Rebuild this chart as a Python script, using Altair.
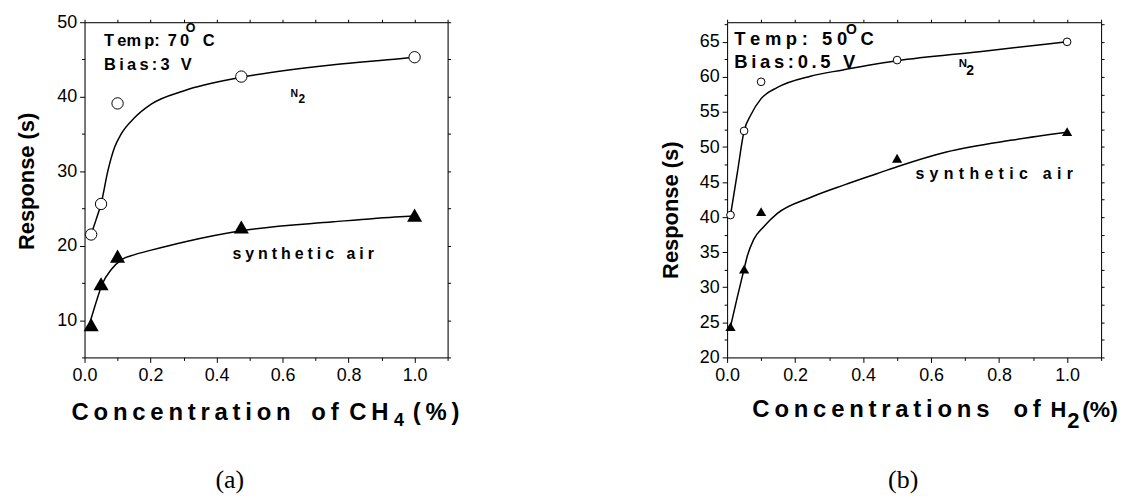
import altair as alt
import pandas as pd

# ---------------- Panel (a): CH4, 70 °C, 3 V ----------------
a_conc = [0.02, 0.05, 0.10, 0.475, 1.00]
a_n2 = [21.5, 25.6, 39.1, 42.7, 45.3]
a_air = [9.4, 14.9, 18.6, 22.5, 24.1]
a_fit_n2_x = [0.02, 0.035, 0.05, 0.071, 0.091, 0.111, 0.152, 0.202, 0.302, 0.475, 0.754, 0.955, 1.00]
a_fit_n2_y = [21.5, 23.5, 25.6, 30.1, 33.2, 35.0, 37.2, 39.0, 40.8, 42.6, 44.3, 45.1, 45.3]
a_fit_air_x = [0.016, 0.035, 0.054, 0.081, 0.111, 0.152, 0.202, 0.302, 0.475, 0.754, 0.955, 1.00]
a_fit_air_y = [9.6, 12.4, 14.9, 16.8, 18.1, 18.8, 19.4, 20.5, 22.0, 23.2, 23.9, 24.0]
a_ydom = [5, 50]
a_xticks = [0.0, 0.1, 0.2, 0.3, 0.4, 0.5, 0.6, 0.7, 0.8, 0.9, 1.0, 1.1]
a_yticks = [5, 10, 15, 20, 25, 30, 35, 40, 45, 50]

# ---------------- Panel (b): H2, 50 °C, 0.5 V ----------------
b_conc = [0.01, 0.05, 0.10, 0.50, 1.00]
b_n2 = [40.3, 52.3, 59.3, 62.4, 65.0]
b_air = [24.4, 32.6, 40.8, 48.4, 52.2]
b_fit_n2_x = [0.01, 0.03, 0.05, 0.07, 0.10, 0.148, 0.245, 0.341, 0.42, 0.50, 0.742, 1.00]
b_fit_n2_y = [40.3, 46.3, 52.3, 54.6, 56.9, 58.5, 60.1, 61.0, 61.7, 62.3, 63.6, 65.0]
b_fit_air_x = [0.01, 0.03, 0.05, 0.059, 0.078, 0.107, 0.147, 0.245, 0.345, 0.44, 0.50, 0.645, 0.84, 1.00]
b_fit_air_y = [24.4, 28.6, 32.6, 34.4, 36.8, 38.6, 40.5, 42.8, 44.6, 46.2, 47.2, 49.3, 51.0, 52.1]
b_ydom = [20, 67.8]
b_xticks = [0.0, 0.1, 0.2, 0.3, 0.4, 0.5, 0.6, 0.7, 0.8, 0.9, 1.0, 1.1]
b_yticks = [20, 22.5, 25, 27.5, 30, 32.5, 35, 37.5, 40, 42.5, 45, 47.5, 50, 52.5, 55, 57.5, 60, 62.5, 65, 67.5]

FONT = "Liberation Sans"
THIN = "\u2009"
FOUR = "\u2005"
THREE = "\u2004"
ONE = pd.DataFrame({"k": [0]})


def spaced(s, sp):
    return sp.join(list(s))


def ptext(t, px, py, fs, weight="bold", font=FONT, angle=0, align="left"):
    kw = dict(text=t, fontSize=fs, fontWeight=weight, font=font, align=align,
              baseline="alphabetic", color="black")
    if angle:
        kw["angle"] = angle
    return alt.Chart(ONE).mark_text(**kw).encode(x=alt.value(px), y=alt.value(py))


def dtext(t, x, y, fs, xs, ys):
    df = pd.DataFrame({"x": [x], "y": [y]})
    return alt.Chart(df).mark_text(
        text=t, fontSize=fs, fontWeight="bold", font=FONT, align="left",
        baseline="alphabetic", color="black"
    ).encode(x=alt.X("x:Q", scale=xs, axis=None), y=alt.Y("y:Q", scale=ys, axis=None))


def axis_common():
    return dict(title=None, grid=False, domainColor="black", domainWidth=1,
                tickColor="black", tickWidth=1, labelFont=FONT, labelFontSize=18,
                labelColor="black", labelFlush=False, labelOverlap=False)


def panel(conc, n2, air, fnx, fny, fax, fay, ydom, xticks, yticks, ytest, w, h,
          csize, tsize, annots, extra):
    xs = alt.Scale(domain=[0, 1.1], nice=False, zero=False)
    ys = alt.Scale(domain=ydom, nice=False, zero=False)
    xmaj = "round(datum.value*10) % 2 === 0"
    xb = alt.Axis(orient="bottom", values=xticks,
                  labelExpr=xmaj + " ? format(datum.value, '.1f') : ''",
                  tickSize={"condition": {"test": xmaj, "value": 5}, "value": 3},
                  labelPadding=4, **axis_common())
    yl = alt.Axis(orient="left", values=yticks,
                  labelExpr=ytest + " ? format(datum.value, 'd') : ''",
                  tickSize={"condition": {"test": ytest, "value": 5}, "value": 3},
                  labelPadding=3, **axis_common())
    xt = alt.Axis(orient="top", values=xticks, labels=False, tickSize=3, **axis_common())
    yr = alt.Axis(orient="right", values=yticks, labels=False, tickSize=3, **axis_common())

    fit = pd.DataFrame({"x": fnx + fax, "y": fny + fay,
                        "s": ["N2"] * len(fnx) + ["air"] * len(fax)})
    dn2 = pd.DataFrame({"x": conc, "y": n2})
    dair = pd.DataFrame({"x": conc, "y": air})

    lines = alt.Chart(fit).mark_line(color="black", strokeWidth=1.5, interpolate="monotone").encode(
        x=alt.X("x:Q", scale=xs, axis=xb), y=alt.Y("y:Q", scale=ys, axis=yl), detail="s:N")
    circles = alt.Chart(dn2).mark_point(shape="circle", filled=True, fill="white", stroke="black",
                                         strokeWidth=1, size=csize, opacity=1).encode(
        x=alt.X("x:Q", scale=xs, axis=xt), y=alt.Y("y:Q", scale=ys, axis=yr))
    tris = alt.Chart(dair).mark_point(shape="triangle-up", filled=True, color="black",
                                       size=tsize, opacity=1).encode(
        x=alt.X("x:Q", scale=xs, axis=None), y=alt.Y("y:Q", scale=ys, axis=None))
    layers = [lines, circles, tris]
    for (t, x, y, fs) in annots:
        layers.append(dtext(t, x, y, fs, xs, ys))
    layers.extend(extra)
    return alt.layer(*layers).resolve_axis(x="independent", y="independent").properties(
        width=w, height=h)


annots_a = [
    ("T" + THIN + "em" + THIN + "p:" + THIN + " 7" + THIN + "0", 0.059, 46.76, 16.5),
    ("O", 0.307, 48.66, 12.5),
    ("C", 0.358, 46.76, 16.5),
    (spaced("Bias:3 V", THIN), 0.059, 43.63, 16.5),
    ("N", 0.624, 39.99, 10.5),
    ("2", 0.648, 39.19, 12),
    (spaced("synthetic air", FOUR), 0.448, 18.26, 16),
]
extra_a = [
    ptext(spaced("Concentration", THIN), -13, 400, 24),
    ptext(spaced("of", THIN), 228, 400, 24),
    ptext(spaced("CH", THIN), 266, 400, 24),
    ptext("4", 311, 405.7, 18),
    ptext(spaced("(%)", THIN), 330, 400, 24),
    ptext("Response (s)", -50.7, 160, 22, angle=270, align="center"),
    ptext("(a)", 146, 468, 26, weight="normal", font="Liberation Serif", align="center"),
]

annots_b = [
    (spaced("Temp: 50", FOUR), 0.021, 64.53, 18.5),
    ("O", 0.35, 66.18, 14),
    ("C", 0.392, 64.53, 18.5),
    (spaced("Bias:0.5 V", THIN), 0.021, 61.21, 18.5),
    ("N", 0.681, 61.45, 11.5),
    ("2", 0.703, 60.27, 14),
    (spaced("synthetic air", THREE), 0.554, 45.5, 16),
]
extra_b = [
    ptext(spaced("Concentrations", THIN), 25.4, 397, 24),
    ptext(spaced("of", THIN), 287.8, 397, 24),
    ptext("H", 325.0, 397, 22),
    ptext("2", 342.0, 407.6, 22),
    ptext("(%)", 357.0, 397, 23),
    ptext("Response (s)", -49, 189, 22, angle=270, align="center"),
    ptext("(b)", 177, 468, 26, weight="normal", font="Liberation Serif", align="center"),
]

pa = panel(a_conc, a_n2, a_air, a_fit_n2_x, a_fit_n2_y, a_fit_air_x, a_fit_air_y, a_ydom,
           a_xticks, a_yticks, "datum.value % 10 === 0", 365, 337, 130, 230, annots_a, extra_a)
pb = panel(b_conc, b_n2, b_air, b_fit_n2_x, b_fit_n2_y, b_fit_air_x, b_fit_air_y, b_ydom,
           b_xticks, b_yticks, "datum.value % 5 === 0", 376, 337, 60, 105, annots_b, extra_b)

chart = alt.hconcat(pa, pb, spacing=281, bounds="flush").properties(
    padding={"left": 15, "top": 11, "right": 2, "bottom": 2}
).configure_view(stroke=None).configure(background="white")

chart.save("out.html", embed_options={"renderer": "svg", "actions": False})
